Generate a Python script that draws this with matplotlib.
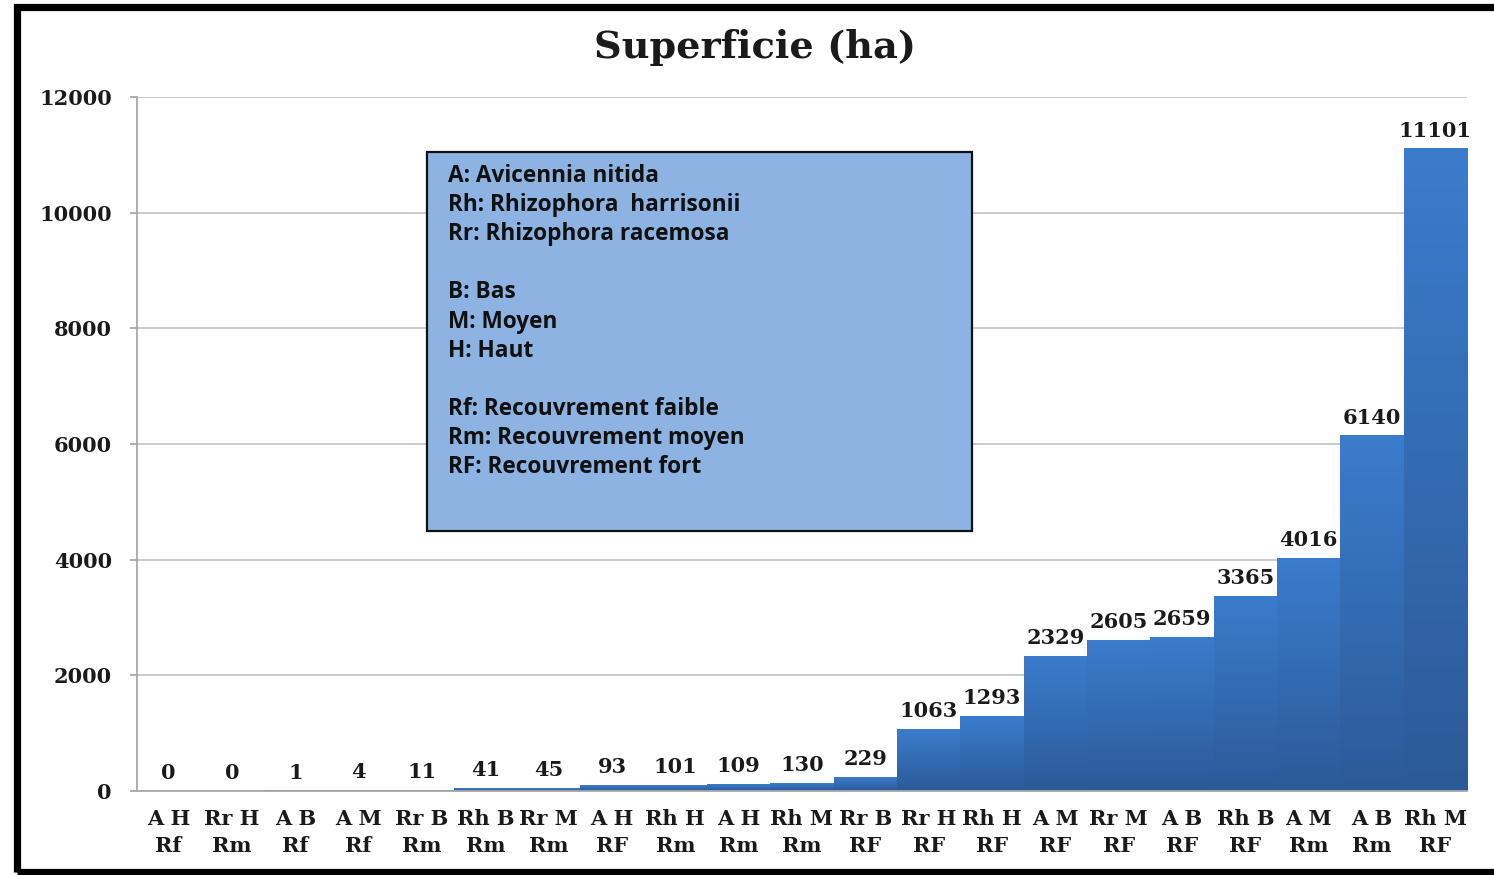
import numpy as np
import matplotlib.pyplot as plt
from matplotlib.patches import Rectangle
from matplotlib.colors import LinearSegmentedColormap

# --- donnees ---
categories = ["A H\nRf", "Rr H\nRm", "A B\nRf", "A M\nRf", "Rr B\nRm", "Rh B\nRm", "Rr M\nRm",
              "A H\nRF", "Rh H\nRm", "A H\nRm", "Rh M\nRm", "Rr B\nRF", "Rr H\nRF", "Rh H\nRF",
              "A M\nRF", "Rr M\nRF", "A B\nRF", "Rh B\nRF", "A M\nRm", "A B\nRm", "Rh M\nRF"]
superficie = [0, 0, 1, 4, 11, 41, 45, 93, 101, 109, 130, 229, 1063, 1293,
              2329, 2605, 2659, 3365, 4016, 6140, 11101]
yticks = [0, 2000, 4000, 6000, 8000, 10000, 12000]
legend_lines = ["A: Avicennia nitida", "Rh: Rhizophora  harrisonii", "Rr: Rhizophora racemosa", "",
                "B: Bas", "M: Moyen", "H: Haut", "",
                "Rf: Recouvrement faible", "Rm: Recouvrement moyen", "RF: Recouvrement fort"]

W, H = 1494, 875
SERIF = "DejaVu Serif"
FS = 15  # taille des etiquettes
grad = LinearSegmentedColormap.from_list("bleu", ["#2c5a98", "#3b7ccc"])

fig = plt.figure(figsize=(W / 100, H / 100), dpi=100)
ax = fig.add_axes([137 / W, 1 - 791 / H, (1467 - 137) / W, (791 - 97) / H])

x = np.arange(len(categories))

# grille
ax.set_axisbelow(True)
ax.yaxis.grid(True, color="#c6c6c6", linewidth=1.3)
for s in ["top", "right"]:
    ax.spines[s].set_visible(False)
for s in ["left", "bottom"]:
    ax.spines[s].set_color("#a8a8a8")
    ax.spines[s].set_linewidth(1.3)

# barres avec degrade vertical
g = np.linspace(0, 1, 256).reshape(-1, 1)
for xi, v in zip(x, superficie):
    if v > 0:
        ax.imshow(g, cmap=grad, aspect="auto", origin="lower",
                  extent=[xi - 0.5, xi + 0.5, 0, v], zorder=2, interpolation="bilinear")
    ax.annotate(str(v), (xi, v), xytext=(0, 6), textcoords="offset points",
                ha="center", va="bottom", fontsize=FS, fontweight="bold",
                family=SERIF, color="#1a1a1a", zorder=4)
ax.set_xlim(-0.5, len(categories) - 0.5)
ax.set_ylim(0, 12000)

ax.set_yticks(yticks)
ax.set_yticklabels([str(t) for t in yticks], fontsize=FS, fontweight="bold",
                   family=SERIF, color="#1a1a1a")
ax.tick_params(axis="y", length=5, color="#a8a8a8", width=1.3, pad=13)
ax.set_xticks(x)
ax.set_xticklabels(categories, fontsize=FS, fontweight="bold", family=SERIF,
                   color="#1a1a1a", linespacing=1.45)
ax.tick_params(axis="x", length=0, pad=13)

fig.text(755 / W, 1 - 48 / H, "Superficie (ha)", ha="center", va="center",
         fontsize=27.5, fontweight="bold", family=SERIF, color="#1a1a1a")

# encadre legende
fig.patches.append(Rectangle((427 / W, 1 - 531 / H), (972 - 427) / W, (531 - 152) / H,
                             transform=fig.transFigure, facecolor="#8db3e2",
                             edgecolor="#111111", linewidth=1.6, zorder=5))
for i, line in enumerate(legend_lines):
    if line:
        fig.text(448 / W, 1 - (176 + 29.1 * i) / H, line, ha="left", va="center",
                 fontsize=16.3, fontweight="bold", family="Open Sans", color="#111111", zorder=6)

# cadre noir
fig.patches.append(Rectangle((16.5 / W, 1 - 871.5 / H), 1.2, (871.5 - 6.5) / H,
                             transform=fig.transFigure, fill=False,
                             edgecolor="black", linewidth=5.2, zorder=10))

fig.savefig("out.png", dpi=100)
